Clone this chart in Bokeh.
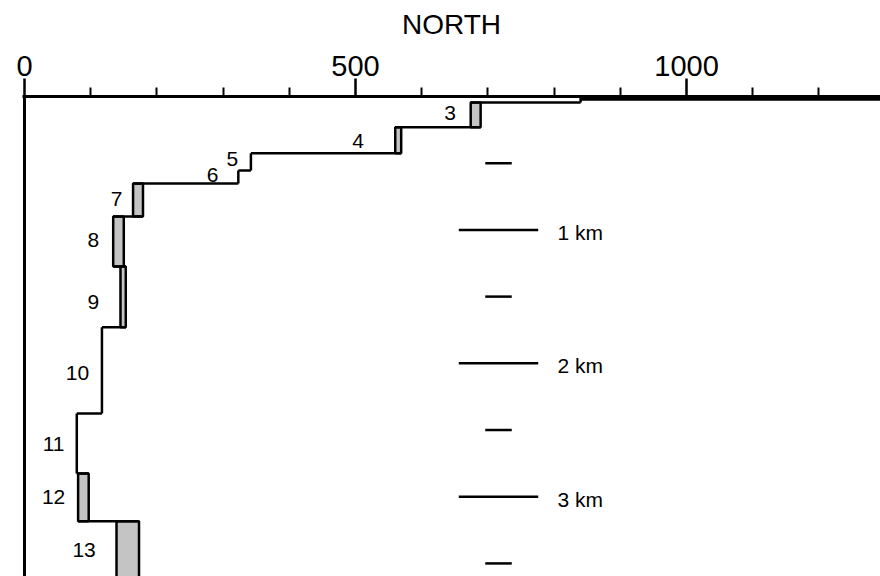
from bokeh.plotting import figure
from bokeh.models import Range1d, FixedTicker, Span, ColumnDataSource
from bokeh.core.properties import value
from bokeh.embed import file_html
from bokeh.resources import INLINE

FONT = "Liberation Sans"

# --- data (value along NORTH, depth in km) ---
layer_id = ["1", "2", "3", "4", "5", "6", "7", "8", "9", "10", "11", "12", "13"]
layer_top = [0.00, 0.02, 0.045, 0.230, 0.425, 0.555, 0.652, 0.900, 1.274, 1.729, 2.376, 2.826, 3.184]
layer_bottom = [0.02, 0.045, 0.230, 0.425, 0.555, 0.652, 0.900, 1.274, 1.729, 2.376, 2.826, 3.184, 3.70]
layer_lo = [840, 840, 674, 560, 342, 323, 164, 134, 145, 117, 79, 81, 139]
layer_hi = [1310, 840, 689, 569, 342, 323, 179, 150, 153, 117, 79, 97, 173]

label_text = ["3", "4", "5", "6", "7", "8", "9", "10", "11", "12", "13"]
label_x = [643, 504, 314, 284, 139, 104, 104, 80, 44, 44, 90]
label_depth = [0.127, 0.337, 0.465, 0.585, 0.772, 1.072, 1.544, 2.076, 2.604, 3.004, 3.403]

scale_depth_short = [0.5, 1.5, 2.5, 3.5]
scale_depth_long = [1.0, 2.0, 3.0]
scale_text = ["1 km", "2 km", "3 km"]

x_ticks = [0, 500, 1000]
x_minor = [100, 200, 300, 400, 600, 700, 800, 900, 1100, 1200]

p = figure(width=880, height=576, output_backend="svg", toolbar_location=None,
           x_range=Range1d(-3, 1293), y_range=Range1d(3.598, 0),
           x_axis_location="above", min_border_left=22, min_border_right=0,
           min_border_top=96, min_border_bottom=0)
p.outline_line_color = None
p.xgrid.visible = False
p.ygrid.visible = False
p.yaxis.visible = False
p.background_fill_color = "white"

ax = p.xaxis[0]
ax.ticker = FixedTicker(ticks=x_ticks, minor_ticks=x_minor)
ax.axis_line_width = 3
ax.major_tick_line_width = 2.5
ax.minor_tick_line_width = 2
ax.major_tick_out = 18
ax.major_tick_in = 0
ax.minor_tick_out = 9
ax.minor_tick_in = 0
ax.major_label_standoff = 3
ax.major_label_text_font = FONT
ax.major_label_text_font_size = "29px"
ax.major_label_text_color = "black"
ax.axis_label = "NORTH"
ax.axis_label_text_font = FONT
ax.axis_label_text_font_size = "28px"
ax.axis_label_text_font_style = "normal"
ax.axis_label_text_color = "black"
ax.axis_label_standoff = 13

# left depth line
p.add_layout(Span(location=0, dimension="height", line_color="black", line_width=3))

# layer boxes
src = ColumnDataSource(dict(top=layer_top, bottom=layer_bottom, left=layer_lo, right=layer_hi))
fills = ["black"] + ["#c4c4c4"] * (len(layer_id) - 1)
src.data["fill"] = fills
p.quad(left="left", right="right", top="top", bottom="bottom", source=src,
       fill_color="fill", line_color="black", line_width=2.5)

# connectors between layers
cx0, cx1, cy = [], [], []
for i in range(len(layer_id) - 1):
    cy.append(layer_bottom[i])
    cx0.append(min(layer_lo[i], layer_lo[i + 1]))
    cx1.append(max(layer_hi[i], layer_hi[i + 1]))
p.segment(x0=cx0, y0=cy, x1=cx1, y1=cy, line_color="black", line_width=2.5)

# layer numbers
p.text(x=label_x, y=label_depth, text=label_text, text_font=value(FONT),
       text_font_size="21px", text_align="center", text_baseline="middle", text_color="black")

# depth scale
p.segment(x0=[696] * len(scale_depth_short), y0=scale_depth_short,
          x1=[736] * len(scale_depth_short), y1=scale_depth_short,
          line_color="black", line_width=2.5)
p.segment(x0=[656] * len(scale_depth_long), y0=scale_depth_long,
          x1=[776] * len(scale_depth_long), y1=scale_depth_long,
          line_color="black", line_width=2.5)
p.text(x=[805] * len(scale_text), y=[d + 0.02 for d in scale_depth_long], text=scale_text,
       text_font=value(FONT), text_font_size="21px", text_align="left",
       text_baseline="middle", text_color="black")

open("out.html", "w").write(file_html(p, INLINE))
